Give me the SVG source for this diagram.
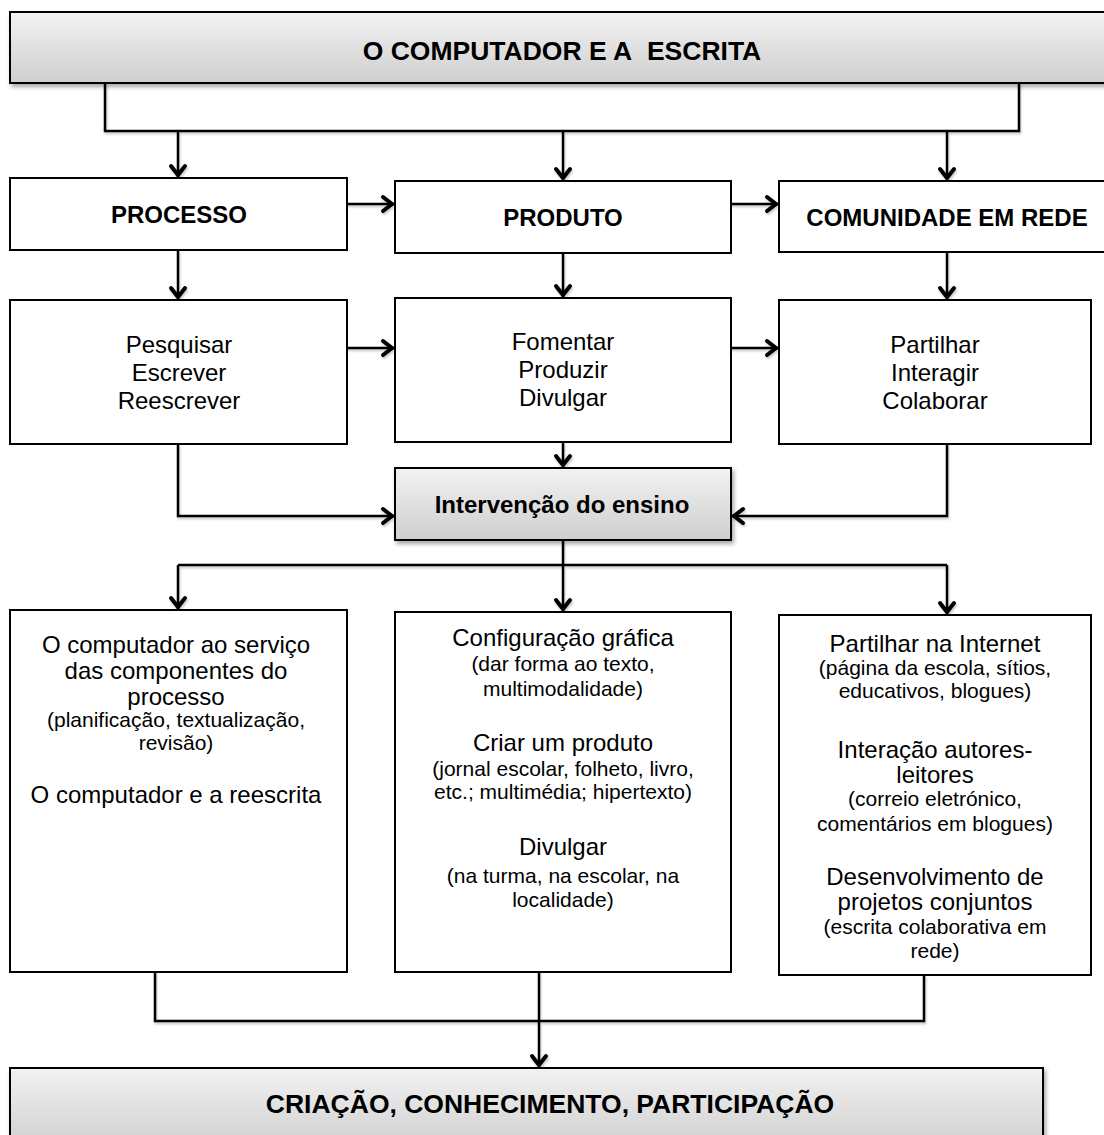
<svg xmlns="http://www.w3.org/2000/svg" width="1104" height="1135" viewBox="0 0 1104 1135">
  <defs>
    <linearGradient id="grey" x1="0" y1="0" x2="0" y2="1">
      <stop offset="0" stop-color="#f2f2f2"/>
      <stop offset="1" stop-color="#cfcfcf"/>
    </linearGradient>
    <filter id="shadow" x="-5%" y="-20%" width="110%" height="150%">
      <feDropShadow dx="2" dy="3" stdDeviation="2" flood-color="#000" flood-opacity="0.35"/>
    </filter>
    <filter id="lineShadow" x="-10%" y="-10%" width="120%" height="120%">
      <feDropShadow dx="1" dy="2" stdDeviation="1.2" flood-color="#000" flood-opacity="0.22"/>
    </filter>
    <marker id="arrow" markerUnits="userSpaceOnUse" viewBox="-16 -10 18 20" markerWidth="18" markerHeight="20" refX="0" refY="0" orient="auto" overflow="visible">
      <path d="M-12,-7 L-3,0 L-12,7" fill="none" stroke="#000" stroke-width="4" stroke-linecap="round"/>
    </marker>
    <style>
      .box { fill: #fff; stroke: #000; stroke-width: 2; }
      .gbox { fill: url(#grey); stroke: #000; stroke-width: 2; filter: url(#shadow); }
      .c { fill: none; stroke: #000; stroke-width: 2.5; }
      .a { marker-end: url(#arrow); }
      text { font-family: "Liberation Sans", Arial, sans-serif; text-anchor: middle; fill: #000; }
      .h { font-size: 26.5px; font-weight: bold; }
      .b { font-size: 24px; font-weight: bold; }
      .t { font-size: 24px; }
      .s { font-size: 21px; }
    </style>
  </defs>

  <!-- connectors -->
  <g id="connectors" filter="url(#lineShadow)">
    <path class="c" d="M105,83 V131 H1019 V83"/>
    <path class="c a" d="M178,131 V178"/>
    <path class="c a" d="M563,131 V181"/>
    <path class="c a" d="M947,131 V181"/>
    <path class="c a" d="M347,204 H395"/>
    <path class="c a" d="M731,204 H779"/>
    <path class="c a" d="M178,250 V300"/>
    <path class="c a" d="M563,253 V298"/>
    <path class="c a" d="M947,252 V300"/>
    <path class="c a" d="M347,348 H395"/>
    <path class="c a" d="M731,348 H779"/>
    <path class="c a" d="M178,444 V516 H395"/>
    <path class="c a" d="M947,444 V516 H731"/>
    <path class="c a" d="M563,442 V468"/>
    <path class="c" d="M178,565 H947"/>
    <path class="c a" d="M563,540 V612"/>
    <path class="c a" d="M178,565 V610"/>
    <path class="c a" d="M947,565 V615"/>
    <path class="c" d="M155,972 V1021 H924 V975"/>
    <path class="c a" d="M539,972 V1068"/>
  </g>

  <!-- top heading -->
  <g id="heading">
    <rect class="gbox" x="10" y="12" width="1110" height="71"/>
    <text class="h" x="562" y="59.5">O COMPUTADOR E A&#160; ESCRITA</text>
  </g>

  <!-- first row -->
  <g id="processo">
    <rect class="box" x="10" y="178" width="337" height="72"/>
    <text class="b" x="179" y="223">PROCESSO</text>
  </g>
  <g id="produto">
    <rect class="box" x="395" y="181" width="336" height="72"/>
    <text class="b" x="563" y="226">PRODUTO</text>
  </g>
  <g id="comunidade">
    <rect class="box" x="779" y="181" width="340" height="71"/>
    <text class="b" x="947" y="226">COMUNIDADE EM REDE</text>
  </g>

  <!-- second row -->
  <g id="acoes-processo">
    <rect class="box" x="10" y="300" width="337" height="144"/>
    <text class="t" x="179" y="353">Pesquisar</text>
    <text class="t" x="179" y="381">Escrever</text>
    <text class="t" x="179" y="409">Reescrever</text>
  </g>
  <g id="acoes-produto">
    <rect class="box" x="395" y="298" width="336" height="144"/>
    <text class="t" x="563" y="350">Fomentar</text>
    <text class="t" x="563" y="378">Produzir</text>
    <text class="t" x="563" y="406">Divulgar</text>
  </g>
  <g id="acoes-comunidade">
    <rect class="box" x="779" y="300" width="312" height="144"/>
    <text class="t" x="935" y="353">Partilhar</text>
    <text class="t" x="935" y="381">Interagir</text>
    <text class="t" x="935" y="409">Colaborar</text>
  </g>

  <!-- teaching intervention -->
  <g id="intervencao">
    <rect class="gbox" x="395" y="468" width="336" height="72"/>
    <text class="b" x="562" y="513">Intervenção do ensino</text>
  </g>

  <!-- third row -->
  <g id="detalhe-processo">
    <rect class="box" x="10" y="610" width="337" height="362"/>
    <text class="t" x="176" y="653">O computador ao serviço</text>
    <text class="t" x="176" y="679">das componentes do</text>
    <text class="t" x="176" y="705">processo</text>
    <text class="s" x="176" y="727">(planificação, textualização,</text>
    <text class="s" x="176" y="750">revisão)</text>
    <text class="t" x="176" y="803">O computador e a reescrita</text>
  </g>
  <g id="detalhe-produto">
    <rect class="box" x="395" y="612" width="336" height="360"/>
    <text class="t" x="563" y="646">Configuração gráfica</text>
    <text class="s" x="563" y="671">(dar forma ao texto,</text>
    <text class="s" x="563" y="696">multimodalidade)</text>
    <text class="t" x="563" y="751">Criar um produto</text>
    <text class="s" x="563" y="776">(jornal escolar, folheto, livro,</text>
    <text class="s" x="563" y="799">etc.; multimédia; hipertexto)</text>
    <text class="t" x="563" y="855">Divulgar</text>
    <text class="s" x="563" y="883">(na turma, na escolar, na</text>
    <text class="s" x="563" y="907">localidade)</text>
  </g>
  <g id="detalhe-comunidade">
    <rect class="box" x="779" y="615" width="312" height="360"/>
    <text class="t" x="935" y="652">Partilhar na Internet</text>
    <text class="s" x="935" y="675">(página da escola, sítios,</text>
    <text class="s" x="935" y="698">educativos, blogues)</text>
    <text class="t" x="935" y="758">Interação autores-</text>
    <text class="t" x="935" y="783">leitores</text>
    <text class="s" x="935" y="806">(correio eletrónico,</text>
    <text class="s" x="935" y="831">comentários em blogues)</text>
    <text class="t" x="935" y="885">Desenvolvimento de</text>
    <text class="t" x="935" y="910">projetos conjuntos</text>
    <text class="s" x="935" y="934">(escrita colaborativa em</text>
    <text class="s" x="935" y="958">rede)</text>
  </g>

  <!-- outcome -->
  <g id="resultado">
    <rect class="gbox" x="10" y="1068" width="1033" height="80"/>
    <text class="h" x="550" y="1113">CRIAÇÃO, CONHECIMENTO, PARTICIPAÇÃO</text>
  </g>
</svg>
